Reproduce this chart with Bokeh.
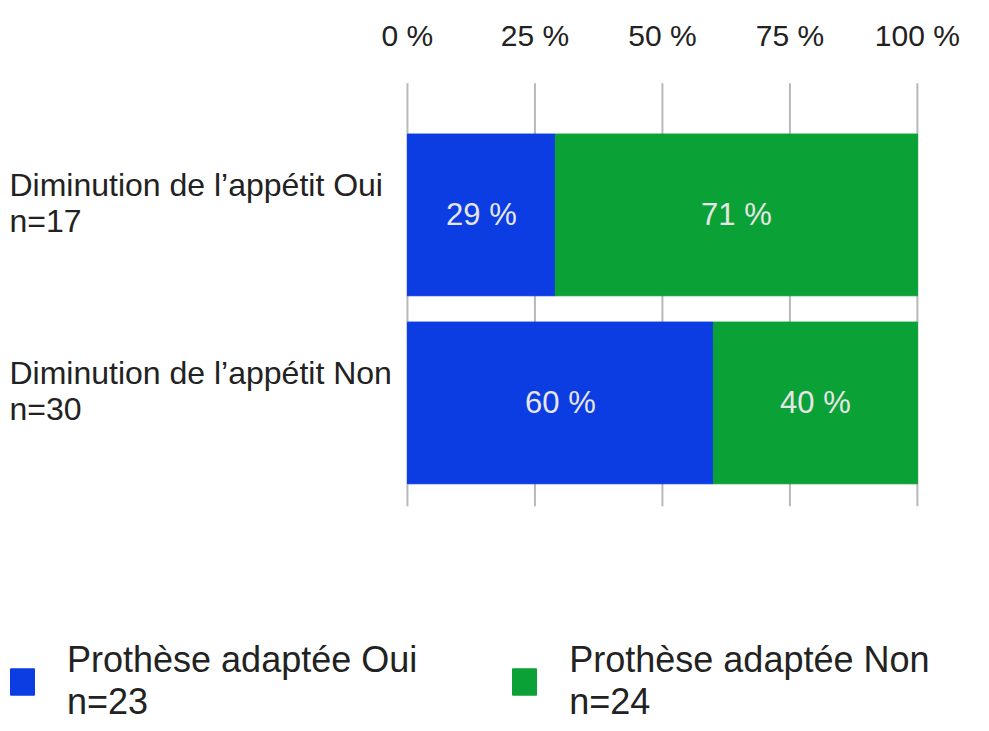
from bokeh.plotting import figure
from bokeh.models import Range1d, Legend, LegendItem, ColumnDataSource, FixedTicker
from bokeh.core.properties import value
from bokeh.embed import file_html
from bokeh.resources import INLINE

# ---- data ----
groups = ["Oui", "Non"]
group_labels = ["Diminution de l’appétit Oui\nn=17", "Diminution de l’appétit Non\nn=30"]
oui_pct = [29, 60]
non_pct = [71, 40]
series_labels = ["Prothèse adaptée Oui\nn=23", "Prothèse adaptée Non\nn=24"]
tick_values = [0, 25, 50, 75, 100]
tick_labels = ["0 %", "25 %", "50 %", "75 %", "100 %"]

BLUE = "#0b3de2"
GREEN = "#0aa236"
FONT = "Liberation Sans"
BAR_H = 0.86

# category rows: first group on top
row_pos = [len(groups) - 1 - i for i in range(len(groups))]

src = ColumnDataSource(dict(
    g=groups,
    y=row_pos,
    lab=group_labels,
    oui_end=oui_pct,
    non_end=[a + b for a, b in zip(oui_pct, non_pct)],
    zero=[0] * len(groups),
    oui_mid=[a / 2 for a in oui_pct],
    non_mid=[a + b / 2 for a, b in zip(oui_pct, non_pct)],
    oui_txt=[f"{v} %" for v in oui_pct],
    non_txt=[f"{v} %" for v in non_pct],
))

p = figure(width=973, height=723, output_backend="svg", toolbar_location=None,
           x_range=Range1d(-79.8, 111),
           y_range=Range1d(-1.705, 1.784),
           x_axis_location="above",
           min_border_top=67, min_border_bottom=0,
           min_border_left=0, min_border_right=0)

p.outline_line_color = None
p.yaxis.visible = False
p.grid.visible = False

# vertical grid lines, limited to the bar area
grid_src = ColumnDataSource(dict(
    x=tick_values,
    y0=[min(row_pos) - 0.55] * len(tick_values),
    y1=[max(row_pos) + 0.7] * len(tick_values),
))
p.segment(x0="x", x1="x", y0="y0", y1="y1", source=grid_src,
          line_color="#b8b8b8", line_width=2)

ax = p.xaxis[0]
ax.ticker = FixedTicker(ticks=tick_values)
ax.major_label_overrides = {v: t for v, t in zip(tick_values, tick_labels)}
ax.axis_line_color = None
ax.major_tick_line_color = None
ax.minor_tick_line_color = None
ax.major_label_standoff = 10
ax.major_label_text_font = FONT
ax.major_label_text_font_size = "30px"
ax.major_label_text_color = "#222222"

r_oui = p.hbar(y="y", left="zero", right="oui_end", height=BAR_H, source=src,
               fill_color=BLUE, line_color=BLUE)
r_non = p.hbar(y="y", left="oui_end", right="non_end", height=BAR_H, source=src,
               fill_color=GREEN, line_color=GREEN)

p.text(x="oui_mid", y="y", text="oui_txt", source=src, text_align="center",
       text_baseline="middle", text_font=value(FONT), text_font_size="31px",
       text_color="#e6e6e6")
p.text(x="non_mid", y="y", text="non_txt", source=src, text_align="center",
       text_baseline="middle", text_font=value(FONT), text_font_size="31px",
       text_color="#e6e6e6")

p.text(x="zero", y="y", text="lab", source=src, x_offset=-398, y_offset=-12,
       text_align="left", text_baseline="middle", text_font=value(FONT),
       text_font_size="32px", text_color="#222222", text_line_height=1.0)

legend = Legend(items=[LegendItem(label=series_labels[0], renderers=[r_oui]),
                       LegendItem(label=series_labels[1], renderers=[r_non])],
                orientation="horizontal", location=(7, 0),
                margin=0, padding=0, spacing=92, label_standoff=30,
                glyph_width=30, glyph_height=33,
                label_text_font=FONT, label_text_font_size="36px",
                label_text_line_height=1.0,
                label_text_color="#222222", border_line_color=None,
                background_fill_alpha=0)
p.add_layout(legend, "center")

open("out.html", "w").write(file_html(p, INLINE))
